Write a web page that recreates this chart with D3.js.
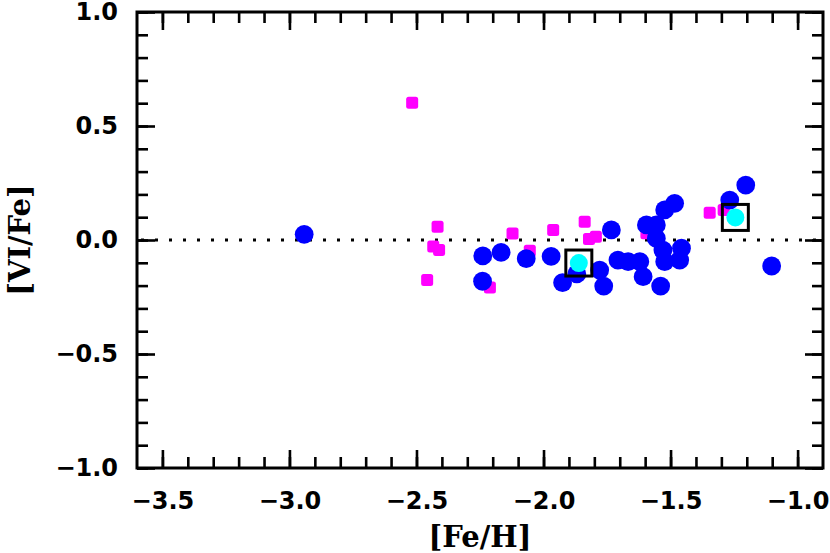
<!DOCTYPE html>
<html>
<head>
<meta charset="utf-8">
<script src="https://cdn.jsdelivr.net/npm/d3@7"></script>
<style>
  body { margin: 0; background: #fff; }
  .tick text { font-family: "DejaVu Sans", sans-serif; font-weight: bold; }
</style>
</head>
<body>
<div id="chart"></div>
<script>
"use strict";

// [Fe/H], [VI/Fe]
const blueFe = [-2.942, -2.239, -2.167, -2.068, -1.970, -2.240, -1.925, -1.869, -1.779, -1.763,
  -1.733, -1.707, -1.667, -1.621, -1.608, -1.595, -1.556, -1.523, -1.484, -1.556,
  -1.530, -1.523, -1.457, -1.464, -1.539, -1.267, -1.204, -1.102];
const blueVI = [0.025, -0.070, -0.054, -0.082, -0.072, -0.181, -0.187, -0.149, -0.132, -0.202,
  0.044, -0.088, -0.095, -0.095, -0.161, 0.066, 0.066, 0.132, 0.161, 0.007,
  -0.044, -0.095, -0.036, -0.088, -0.202, 0.175, 0.241, -0.114];

const pinkFe = [-2.517, -2.417, -2.434, -2.411, -2.458, -2.211, -2.122, -2.054, -1.962, -1.838,
  -1.821, -1.794, -1.595, -1.346, -1.291];
const pinkVI = [0.602, 0.058, -0.029, -0.044, -0.175, -0.208, 0.029, -0.047, 0.044, 0.080,
  0.004, 0.014, 0.030, 0.120, 0.132];

const cyanFe = [-1.861, -1.245];
const cyanVI = [-0.101, 0.099];

const xMajor = [-3.5, -3.0, -2.5, -2.0, -1.5, -1.0];
const yMajor = [-1.0, -0.5, 0.0, 0.5, 1.0];

const W = 830, H = 553;
const margin = { left: 137, top: 12, right: 7, bottom: 85 },
      w = W - margin.left - margin.right,
      h = H - margin.top - margin.bottom;

const svg = d3.select("#chart").append("svg")
  .attr("width", W).attr("height", H);
const chart = svg.append("g")
  .attr("transform", "translate(" + margin.left + "," + margin.top + ")");

const x = d3.scaleLinear().domain([-3.6, -0.9]).range([0, w]),
      y = d3.scaleLinear().domain([-1, 1]).range([h, 0]);

const xMinor = d3.range(-35, -9).map(function(d) { return d / 10; }),
      yMinor = d3.range(-10, 11).map(function(d) { return d / 10; });
const fmt = d3.format(".1f");

function styleAxis(g) {
  g.select(".domain").remove();
  g.selectAll(".tick line").attr("stroke", "#000").attr("stroke-width", 2.6);
}

// minor ticks, all four sides
chart.append("g").attr("transform", "translate(0," + h + ")")
  .call(d3.axisBottom(x).tickValues(xMinor).tickSize(-11).tickFormat("")).call(styleAxis);
chart.append("g")
  .call(d3.axisTop(x).tickValues(xMinor).tickSize(-11).tickFormat("")).call(styleAxis);
chart.append("g")
  .call(d3.axisLeft(y).tickValues(yMinor).tickSize(-11).tickFormat("")).call(styleAxis);
chart.append("g").attr("transform", "translate(" + w + ",0)")
  .call(d3.axisRight(y).tickValues(yMinor).tickSize(-11).tickFormat("")).call(styleAxis);

// major ticks with labels
const xAx = chart.append("g").attr("transform", "translate(0," + h + ")")
  .call(d3.axisBottom(x).tickValues(xMajor).tickSize(-18).tickPadding(24).tickFormat(fmt))
  .call(styleAxis);
xAx.selectAll("text").attr("font-size", 24).attr("fill", "#000");
chart.append("g")
  .call(d3.axisTop(x).tickValues(xMajor).tickSize(-18).tickFormat("")).call(styleAxis);
const yAx = chart.append("g")
  .call(d3.axisLeft(y).tickValues(yMajor).tickSize(-18).tickPadding(19).tickFormat(fmt))
  .call(styleAxis);
yAx.selectAll("text").attr("font-size", 24).attr("fill", "#000");
chart.append("g").attr("transform", "translate(" + w + ",0)")
  .call(d3.axisRight(y).tickValues(yMajor).tickSize(-18).tickFormat("")).call(styleAxis);

// frame
chart.append("rect")
  .attr("width", w).attr("height", h)
  .attr("fill", "none").attr("stroke", "#000").attr("stroke-width", 3);

// zero line
chart.append("line")
  .attr("x1", x(-3.6) + 4).attr("x2", x(-0.9))
  .attr("y1", y(0)).attr("y2", y(0))
  .attr("stroke", "#000").attr("stroke-width", 3)
  .attr("stroke-dasharray", "3,11");

// magenta squares
chart.append("g").selectAll("rect")
  .data(d3.range(pinkFe.length))
  .join("rect")
    .attr("x", function(i) { return x(pinkFe[i]) - 6; })
    .attr("y", function(i) { return y(pinkVI[i]) - 6; })
    .attr("width", 12).attr("height", 12)
    .attr("rx", 2.5)
    .attr("fill", "#ff00ff");

// blue circles
chart.append("g").selectAll("circle")
  .data(d3.range(blueFe.length))
  .join("circle")
    .attr("cx", function(i) { return x(blueFe[i]); })
    .attr("cy", function(i) { return y(blueVI[i]); })
    .attr("r", 9.4)
    .attr("fill", "#0000ff");

// cyan circles with boxes
chart.append("g").selectAll("circle")
  .data(d3.range(cyanFe.length))
  .join("circle")
    .attr("cx", function(i) { return x(cyanFe[i]); })
    .attr("cy", function(i) { return y(cyanVI[i]); })
    .attr("r", 9)
    .attr("fill", "#00ffff");
chart.append("g").selectAll("rect")
  .data(d3.range(cyanFe.length))
  .join("rect")
    .attr("x", function(i) { return x(cyanFe[i]) - 13; })
    .attr("y", function(i) { return y(cyanVI[i]) - 13; })
    .attr("width", 26).attr("height", 26)
    .attr("fill", "none").attr("stroke", "#000").attr("stroke-width", 3);

// axis labels
svg.append("text")
  .attr("x", margin.left + w / 2).attr("y", 547)
  .attr("text-anchor", "middle")
  .attr("font-family", "DejaVu Serif, serif").attr("font-weight", "bold")
  .attr("font-size", 29)
  .text("[Fe/H]");
svg.append("text")
  .attr("transform", "translate(30," + (margin.top + h / 2) + ") rotate(-90)")
  .attr("text-anchor", "middle")
  .attr("font-family", "DejaVu Serif, serif").attr("font-weight", "bold")
  .attr("font-size", 29)
  .text("[VI/Fe]");
</script>
</body>
</html>
